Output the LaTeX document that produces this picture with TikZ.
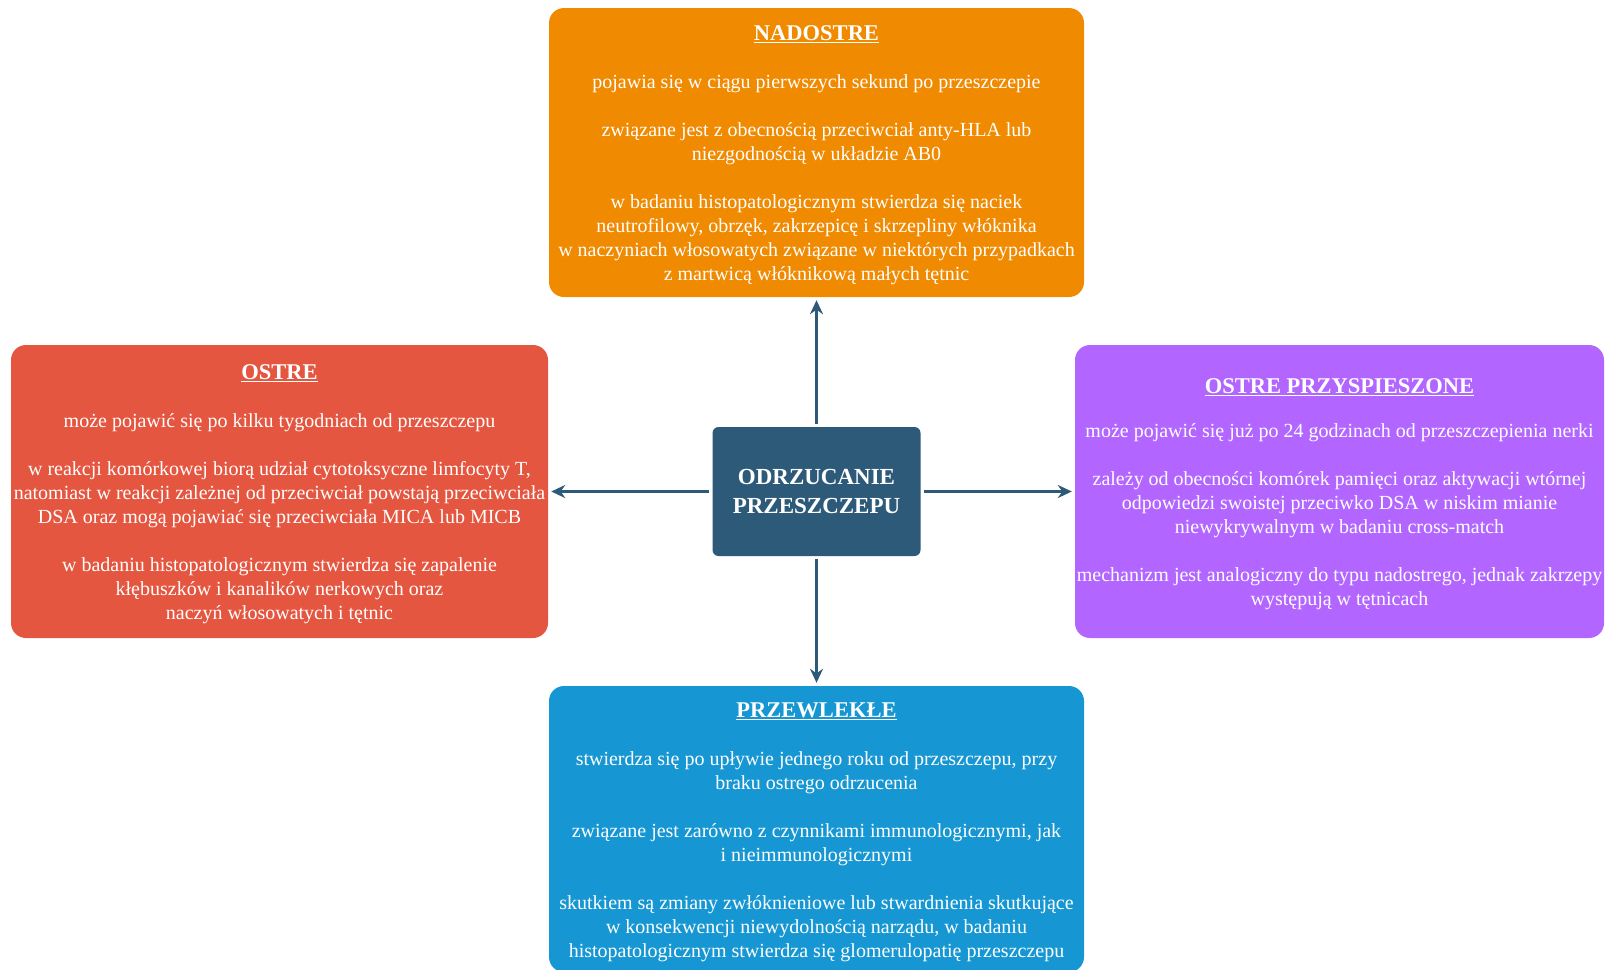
\documentclass[tikz,border=0pt]{standalone}
\usepackage{fontspec}
\setmainfont{Liberation Serif}
\usepackage{xcolor}
\usepackage{tikz}
\usetikzlibrary{arrows.meta, positioning}
\definecolor{myorange}{RGB}{240,138,0}
\definecolor{myred}{RGB}{229,86,64}
\definecolor{mypurple}{RGB}{178,102,255}
\definecolor{myblue}{RGB}{22,151,211}
\definecolor{mynavy}{RGB}{46,90,122}
\newcommand{\cattitle}[1]{{\fontsize{22.5}{24}\selectfont\bfseries\rule{0pt}{21pt}\underline{#1}}}
\tikzset{
  catblock/.style={rectangle, rounded corners=15pt, text=white, align=center,
    inner sep=0pt, font=\fontsize{20}{24}\selectfont},
  orangeblock/.style={catblock, fill=myorange, minimum width=535pt, minimum height=289pt},
  redblock/.style={catblock, fill=myred, minimum width=537pt, minimum height=293pt},
  purpblock/.style={catblock, fill=mypurple, minimum width=529pt, minimum height=293pt},
  blueblock/.style={catblock, fill=myblue, minimum width=535pt, minimum height=286pt},
  mainblock/.style={rectangle, rounded corners=6pt, fill=mynavy, text=white, align=center,
    minimum width=208pt, minimum height=129pt, inner sep=0pt,
    font=\fontsize{23}{29}\selectfont\bfseries},
  arrow/.style={-{Stealth[length=14pt, width=13pt]}, line width=2.8pt, color=mynavy,
    shorten <=3pt, shorten >=3pt}
}

\begin{document}
\begin{tikzpicture}[x=1pt, y=-1pt]
  \useasboundingbox (0,0) rectangle (1605,969);
  \clip (0,0) rectangle (1605,969);
  \fill[white] (0,0) rectangle (1605,969);

  % Centre
  \node[mainblock] (rej) at (816.5,491.5) {ODRZUCANIE\\PRZESZCZEPU};

  % Categories
  \node[orangeblock] (nadostre) at (816.5,152.5) {\cattitle{NADOSTRE}\\[24pt]
    pojawia się w ciągu pierwszych sekund po przeszczepie\\[24pt]
    związane jest z obecnością przeciwciał anty-HLA lub\\
    niezgodnością w układzie AB0\\[24pt]
    w badaniu histopatologicznym stwierdza się naciek\\
    neutrofilowy, obrzęk, zakrzepicę i skrzepliny włóknika\\
    w naczyniach włosowatych związane w niektórych przypadkach\\
    z martwicą włóknikową małych tętnic};

  \node[redblock] (ostre) at (279.5,491.5) {\cattitle{OSTRE}\\[24pt]
    może pojawić się po kilku tygodniach od przeszczepu\\[24pt]
    w reakcji komórkowej biorą udział cytotoksyczne limfocyty T,\\
    natomiast w reakcji zależnej od przeciwciał powstają przeciwciała\\
    DSA oraz mogą pojawiać się przeciwciała MICA lub MICB\\[24pt]
    w badaniu histopatologicznym stwierdza się zapalenie\\
    kłębuszków i kanalików nerkowych oraz\\
    naczyń włosowatych i tętnic};

  \node[purpblock] (przysp) at (1339.5,491.5) {\cattitle{OSTRE PRZYSPIESZONE}\\[20pt]
    może pojawić się już po 24 godzinach od przeszczepienia nerki\\[24pt]
    zależy od obecności komórek pamięci oraz aktywacji wtórnej\\
    odpowiedzi swoistej przeciwko DSA w niskim mianie\\
    niewykrywalnym w badaniu cross-match\\[24pt]
    mechanizm jest analogiczny do typu nadostrego, jednak zakrzepy\\
    występują w tętnicach};

  \node[blueblock] (przewl) at (816.5,829) {\cattitle{PRZEWLEKŁE}\\[24pt]
    stwierdza się po upływie jednego roku od przeszczepu, przy\\
    braku ostrego odrzucenia\\[24pt]
    związane jest zarówno z czynnikami immunologicznymi, jak\\
    i nieimmunologicznymi\\[24pt]
    skutkiem są zmiany zwłóknieniowe lub stwardnienia skutkujące\\
    w konsekwencji niewydolnością narządu, w badaniu\\
    histopatologicznym stwierdza się glomerulopatię przeszczepu};

  % Arrows
  \draw[arrow] (rej.north) -- (nadostre.south);
  \draw[arrow] (rej.west) -- (ostre.east);
  \draw[arrow] (rej.east) -- (przysp.west);
  \draw[arrow] (rej.south) -- (przewl.north);
\end{tikzpicture}
\end{document}
